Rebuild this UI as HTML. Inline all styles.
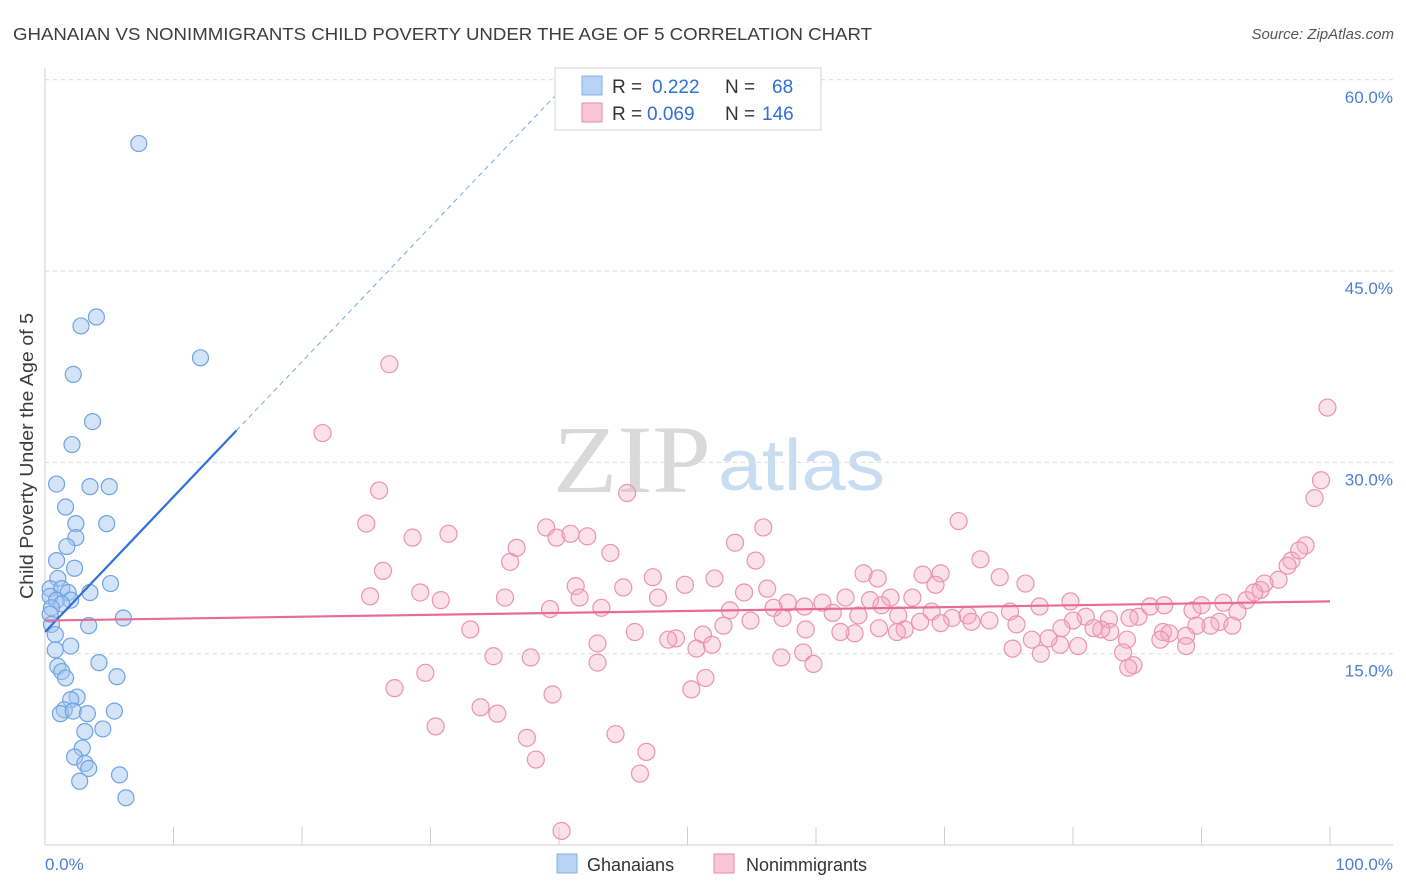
<!DOCTYPE html>
<html><head><meta charset="utf-8">
<style>
body{margin:0;background:#fff;font-family:"Liberation Sans",sans-serif;}
svg{display:block}
</style></head>
<body>
<svg id="chart" width="1406" height="892" viewBox="0 0 1406 892">
<text x="13" y="40" font-size="17.5" fill="#3c3c3c" textLength="859" lengthAdjust="spacingAndGlyphs">GHANAIAN VS NONIMMIGRANTS CHILD POVERTY UNDER THE AGE OF 5 CORRELATION CHART</text>
<text x="1394" y="39" font-size="15" font-style="italic" fill="#555" text-anchor="end">Source: ZipAtlas.com</text>
<g>
<text x="553" y="492" font-size="96" font-family="Liberation Serif,serif" fill="#d9d9d9" textLength="158" lengthAdjust="spacingAndGlyphs">ZIP</text>
<text x="718" y="490" font-size="72" fill="#c8dcf2" textLength="167" lengthAdjust="spacingAndGlyphs">atlas</text>
</g>
<g id="grid"></g>
<g id="axes"></g>
<line id="blueTrendDash" stroke="#7aa8e0" stroke-width="1" stroke-dasharray="5,4"/>
<g id="points"></g>
<line id="blueTrend" stroke="#2f6fd6" stroke-width="2.2"/>
<line id="pinkTrend" stroke="#e86a98" stroke-width="2.2"/>
<text x="33" y="456" font-size="18" fill="#3c3c3c" text-anchor="middle" transform="rotate(-90 33 456)" textLength="286" lengthAdjust="spacingAndGlyphs">Child Poverty Under the Age of 5</text>
<text x="45" y="870" font-size="17" fill="#4a7fd4">0.0%</text>
<text x="1393" y="870" font-size="17" fill="#4a7fd4" text-anchor="end">100.0%</text>
<g>
<rect x="555" y="68" width="266" height="62" fill="#fff" stroke="#d6d6d6"/>
<rect x="582" y="76" width="20" height="19" fill="#b8d3f3" stroke="#7fb0e8"/>
<rect x="582" y="103" width="20" height="19" fill="#f8c6d6" stroke="#e88aa9"/>
<text y="93" font-size="19" fill="#333"><tspan x="612">R =</tspan><tspan x="652" fill="#2f6fd6">0.222</tspan><tspan x="725">N =</tspan><tspan x="772" fill="#2f6fd6">68</tspan></text>
<text y="120" font-size="19" fill="#333"><tspan x="612">R =</tspan><tspan x="647" fill="#2f6fd6">0.069</tspan><tspan x="725">N =</tspan><tspan x="762" fill="#2f6fd6">146</tspan></text>
</g>
<g>
<rect x="557" y="854" width="20" height="19" fill="#b8d3f3" stroke="#7fb0e8"/>
<text x="587" y="871" font-size="18" fill="#333">Ghanaians</text>
<rect x="714" y="854" width="20" height="19" fill="#f8c6d6" stroke="#e88aa9"/>
<text x="746" y="871" font-size="18" fill="#333">Nonimmigrants</text>
</g>
</svg>
<script>
const yTicks=[15,30,45,60];
const yTickLabels=["15.0%","30.0%","45.0%","60.0%"];
const xTicks=[10,20,30,40,50,60,70,80,90,100];
const blueX=[7.3,4.0,2.8,12.1,2.2,3.7,2.1,0.9,3.5,5.0,1.6,2.4,4.8,2.4,1.7,0.9,2.3,1.0,5.1,0.4,1.3,1.8,3.5,0.4,0.9,2.0,1.3,0.5,0.4,6.1,3.4,0.5,0.8,2.0,0.8,4.2,1.0,1.3,5.6,1.6,2.5,2.0,1.5,1.2,2.2,3.3,5.4,3.1,4.5,2.9,2.3,3.1,3.4,2.7,5.8,6.3];
const blueY=[55.0,41.4,40.7,38.2,36.9,33.2,31.4,28.3,28.1,28.1,26.5,25.2,25.2,24.1,23.4,22.3,21.7,20.9,20.5,20.1,20.1,19.8,19.8,19.5,19.2,19.2,18.9,18.6,18.1,17.8,17.2,17.3,16.5,15.6,15.3,14.3,14.0,13.6,13.2,13.1,11.6,11.4,10.6,10.3,10.5,10.3,10.5,8.9,9.1,7.6,6.9,6.4,6.0,5.0,5.5,3.7];
const pinkX=[26.8,21.6,26.0,45.3,71.1,25.0,39.0,31.4,28.6,39.8,40.9,42.2,55.9,53.7,36.7,44.0,55.3,36.2,26.3,72.8,63.7,64.8,68.3,69.7,74.3,47.3,49.8,52.1,41.3,45.0,56.2,76.3,69.3,29.2,25.3,35.8,30.8,47.7,54.4,41.6,43.3,53.3,57.8,59.1,60.5,62.3,64.2,65.8,67.5,56.7,65.1,61.3,63.3,66.4,69.0,70.6,71.8,73.5,75.1,77.4,79.8,81.0,82.8,85.1,86.0,87.1,89.3,90.0,91.7,93.5,94.6,96.0,97.0,98.1,98.8,99.3,99.8,97.6,96.7,94.9,94.1,92.8,91.4,92.4,90.7,89.6,88.8,87.0,87.5,88.8,86.8,84.2,82.9,82.2,81.6,80.0,79.0,78.1,76.8,75.3,77.5,80.4,83.9,84.7,84.3,79.1,72.1,69.7,68.1,66.9,66.3,64.9,63.0,61.9,59.2,57.4,54.9,52.8,51.2,49.1,48.5,45.9,50.7,51.9,59.0,57.3,59.8,43.0,33.1,34.9,37.8,43.0,51.4,50.3,27.2,29.6,30.4,33.9,35.2,37.5,38.2,39.5,44.4,46.8,46.3,40.2,39.3,75.6,84.4];
const pinkY=[37.7,32.3,27.8,27.6,25.4,25.2,24.9,24.4,24.1,24.1,24.4,24.2,24.9,23.7,23.3,22.9,22.3,22.2,21.5,22.4,21.3,20.9,21.2,21.3,21.0,21.0,20.4,20.9,20.3,20.2,20.1,20.5,20.4,19.8,19.5,19.4,19.2,19.4,19.8,19.4,18.6,18.4,19.0,18.7,19.0,19.4,19.2,19.4,19.4,18.6,18.8,18.2,18.0,18.0,18.3,17.8,18.0,17.6,18.3,18.7,19.1,17.9,17.7,17.9,18.7,18.8,18.4,18.8,19.0,19.2,20.0,20.8,22.3,23.5,27.2,28.6,34.3,23.1,21.9,20.5,19.8,18.3,17.5,17.2,17.2,17.2,16.4,16.7,16.6,15.6,16.1,16.1,16.7,16.9,17.0,17.6,15.7,16.2,16.1,15.4,15.0,15.6,15.1,14.1,13.9,17.0,17.5,17.4,17.5,16.9,16.7,17.0,16.6,16.7,16.9,17.8,17.6,17.2,16.5,16.2,16.1,16.7,15.4,15.7,15.1,14.7,14.2,15.8,16.9,14.8,14.7,14.3,13.1,12.2,12.3,13.5,9.3,10.8,10.3,8.4,6.7,11.8,8.7,7.3,5.6,1.1,18.5,17.3,17.8];
const blueTrend=[0,16.7,14.9,32.5,40.5,59.6];
const pinkTrend=[0,17.6,100,19.1];

const NS="http://www.w3.org/2000/svg";
const X0=45,X1=1330,Y0=845,YPX=191.3/15;
const sx=v=>X0+(X1-X0)*v/100;
const sy=v=>Y0-v*YPX;
function mk(tag,attrs,parent){const e=document.createElementNS(NS,tag);for(const k in attrs)e.setAttribute(k,attrs[k]);parent.appendChild(e);return e;}
const grid=document.getElementById('grid');
yTicks.forEach((t,i)=>{
  const l=mk('line',{x1:45,x2:1393,y1:sy(t),y2:sy(t),stroke:'#dcdcdc','stroke-dasharray':'4,4'},grid);
  
  
  const tx=mk('text',{x:1393,y:sy(t)+23,'font-size':17,fill:'#4a7fd4','text-anchor':'end'},grid);
  tx.textContent=yTickLabels[i];
  
  
});
const axes=document.getElementById('axes');
const ya=mk('line',{x1:45,x2:45,y1:68,y2:845,stroke:'#cfcfcf'},axes);


const xa=mk('line',{x1:45,x2:1393,y1:845,y2:845,stroke:'#cfcfcf'},axes);


xTicks.forEach(t=>{
  const l=mk('line',{x1:sx(t),x2:sx(t),y1:827,y2:845,stroke:'#cfcfcf'},axes);
  
  
});
const pts=document.getElementById('points');
pinkX.forEach((x,i)=>{
  const c=mk('circle',{cx:sx(x),cy:sy(pinkY[i]),r:8.5,fill:'rgba(244,168,194,0.35)',stroke:'#eb93b1','stroke-width':1.2},pts);
  
  
});
blueX.forEach((x,i)=>{
  const c=mk('circle',{cx:sx(x),cy:sy(blueY[i]),r:8,fill:'rgba(160,196,240,0.45)',stroke:'#6fa3e3','stroke-width':1.2},pts);
  
  
});
const bt=document.getElementById('blueTrend');
bt.setAttribute('x1',sx(blueTrend[0]));bt.setAttribute('y1',sy(blueTrend[1]));
bt.setAttribute('x2',sx(blueTrend[2]));bt.setAttribute('y2',sy(blueTrend[3]));
const bd=document.getElementById('blueTrendDash');
bd.setAttribute('x1',sx(blueTrend[2]));bd.setAttribute('y1',sy(blueTrend[3]));
bd.setAttribute('x2',sx(blueTrend[4]));bd.setAttribute('y2',sy(blueTrend[5]));
const pt=document.getElementById('pinkTrend');
pt.setAttribute('x1',sx(pinkTrend[0]));pt.setAttribute('y1',sy(pinkTrend[1]));
pt.setAttribute('x2',sx(pinkTrend[2]));pt.setAttribute('y2',sy(pinkTrend[3]));
</script>
</body></html>
